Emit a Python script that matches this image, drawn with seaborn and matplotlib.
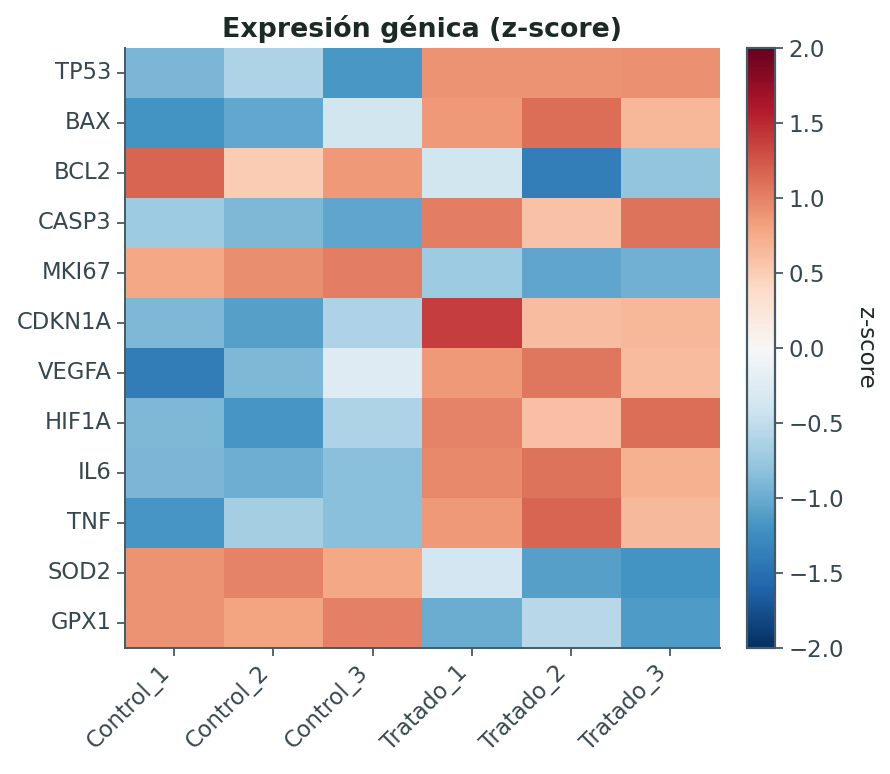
import numpy as np
import pandas as pd
import seaborn as sns
import matplotlib.pyplot as plt

genes = ["TP53", "BAX", "BCL2", "CASP3", "MKI67", "CDKN1A", "VEGFA",
         "HIF1A", "IL6", "TNF", "SOD2", "GPX1"]
samples = ["Control_1", "Control_2", "Control_3", "Tratado_1", "Tratado_2", "Tratado_3"]

tp53 = [-0.92, -0.62, -1.16, 0.90, 0.90, 0.92]
bax = [-1.20, -1.04, -0.38, 0.86, 1.11, 0.67]
bcl2 = [1.16, 0.50, 0.86, -0.38, -1.39, -0.79]
casp3 = [-0.72, -0.90, -1.06, 1.03, 0.58, 1.09]
mki67 = [0.77, 0.93, 1.03, -0.72, -1.06, -0.96]
cdkn1a = [-0.90, -1.10, -0.62, 1.38, 0.62, 0.67]
vegfa = [-1.40, -0.90, -0.26, 0.86, 1.07, 0.64]
hif1a = [-0.90, -1.18, -0.62, 0.99, 0.60, 1.11]
il6 = [-0.92, -0.98, -0.84, 0.96, 1.09, 0.71]
tnf = [-1.18, -0.68, -0.83, 0.86, 1.17, 0.65]
sod2 = [0.90, 0.99, 0.77, -0.37, -1.10, -1.20]
gpx1 = [0.90, 0.80, 1.00, -1.00, -0.56, -1.13]

df = pd.DataFrame([tp53, bax, bcl2, casp3, mki67, cdkn1a, vegfa, hif1a,
                   il6, tnf, sod2, gpx1], index=genes, columns=samples)

sns.set_theme(style="ticks")
plt.rcParams["font.family"] = ["DejaVu Sans"]
dark = "#455a64"
txt = "#37474f"
plt.rcParams.update({"axes.edgecolor": dark, "xtick.color": dark, "ytick.color": dark,
                     "xtick.labelcolor": txt, "ytick.labelcolor": txt})

fig = plt.figure(figsize=(8.9, 7.74), dpi=100)
ax = fig.add_axes([0.14, 0.163, 0.669, 0.775])
cax = fig.add_axes([0.839, 0.163, 0.032, 0.775])
sns.heatmap(df, cmap="RdBu_r", vmin=-2, vmax=2, center=0, ax=ax, cbar_ax=cax,
            cbar_kws={"label": "z-score"})
ax.set_title("Expresión génica (z-score)", fontsize=19.3, fontweight="bold",
             color="#1c2a26", pad=8)
ax.tick_params(axis="both", length=6, width=1.3, labelsize=16.3)
plt.setp(ax.get_xticklabels(), rotation=45, ha="right")
plt.setp(ax.get_yticklabels(), rotation=0)
sns.despine(ax=ax)
for s in ["left", "bottom"]:
    ax.spines[s].set_visible(True)
    ax.spines[s].set_color(dark)
    ax.spines[s].set_linewidth(1.4)

cax.tick_params(labelsize=16.5, length=6, width=1.3)
cax.yaxis.label.set_size(16.5)
cax.yaxis.label.set_color("#1c2a26")
cax.yaxis.label.set_rotation(270)
cax.yaxis.labelpad = 24
cb = ax.collections[0].colorbar
cb.outline.set_edgecolor(dark)
cb.outline.set_linewidth(1.6)
cb.outline.set_visible(True)

fig.savefig("out.png", dpi=100)
